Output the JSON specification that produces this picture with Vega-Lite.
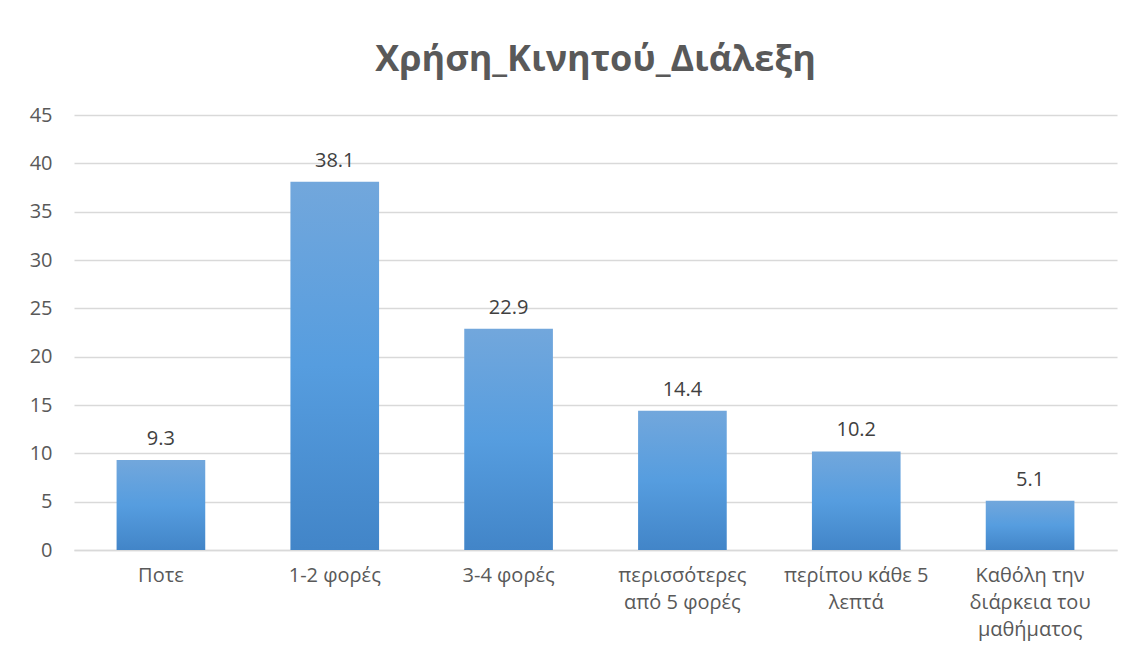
{
  "$schema": "https://vega.github.io/schema/vega-lite/v6.json",
  "autosize": {"type": "none"},
  "width": 1043,
  "height": 435,
  "padding": {"left": 74, "top": 115, "right": 23, "bottom": 115},
  "background": "white",
  "title": {
    "text": "Χρήση_Κινητού_Διάλεξη",
    "anchor": "middle",
    "fontSize": 36,
    "font": "Open Sans",
    "fontWeight": "bold",
    "color": "#595959",
    "offset": 26
  },
  "data": {
    "values": [
      {"category": "Ποτε", "value": 9.3},
      {"category": "1-2 φορές", "value": 38.1},
      {"category": "3-4 φορές", "value": 22.9},
      {"category": "περισσότερες|από 5 φορές", "value": 14.4},
      {"category": "περίπου κάθε 5|λεπτά", "value": 10.2},
      {"category": "Καθόλη την|διάρκεια του|μαθήματος", "value": 5.1}
    ]
  },
  "encoding": {
    "x": {
      "field": "category",
      "type": "nominal",
      "sort": null,
      "scale": {"paddingInner": 0.49, "paddingOuter": 0.245},
      "axis": {
        "title": null,
        "labelAngle": 0,
        "labelExpr": "split(datum.label, '|')",
        "labelFont": "Open Sans",
        "labelFontSize": 20,
        "labelColor": "#595959",
        "labelLineHeight": 27,
        "labelPadding": 15,
        "labelBaseline": "top",
        "ticks": false,
        "domainColor": "#d9d9d9",
        "domainWidth": 1.5,
        "labelLimit": 300
      }
    },
    "y": {
      "field": "value",
      "type": "quantitative",
      "scale": {"domain": [0, 45]},
      "axis": {
        "title": null,
        "values": [0, 5, 10, 15, 20, 25, 30, 35, 40, 45],
        "labelFont": "Open Sans",
        "labelFontSize": 20,
        "labelColor": "#595959",
        "labelPadding": 22,
        "ticks": false,
        "domain": false,
        "gridColor": "#d9d9d9",
        "gridWidth": 1.5
      }
    }
  },
  "layer": [
    {
      "mark": {
        "type": "bar",
        "color": {
          "gradient": "linear",
          "x1": 0, "y1": 0, "x2": 0, "y2": 1,
          "stops": [
            {"offset": 0, "color": "#72a7dc"},
            {"offset": 0.5, "color": "#569ddf"},
            {"offset": 1, "color": "#4285c8"}
          ]
        }
      }
    },
    {
      "mark": {
        "type": "text",
        "baseline": "bottom",
        "dy": -11,
        "font": "Open Sans",
        "fontSize": 20,
        "color": "#404040"
      },
      "encoding": {"text": {"field": "value", "type": "quantitative", "format": ".1f"}}
    }
  ],
  "config": {"view": {"stroke": null}}
}
